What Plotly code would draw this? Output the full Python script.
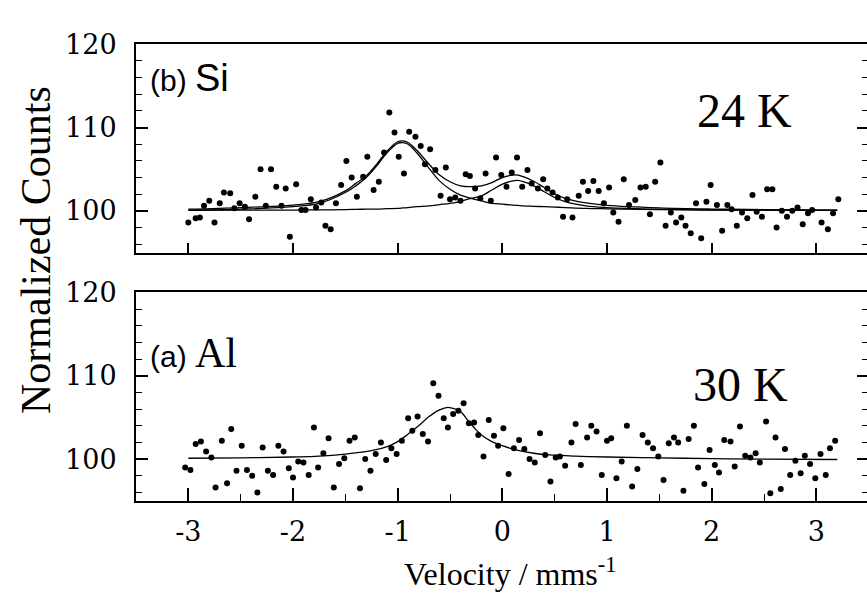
import plotly.graph_objects as go

# ---------------- data ----------------
# (b) Si, 24 K  -- measured points
si_x = [-3.00, -2.93, -2.89, -2.85, -2.80, -2.75, -2.70, -2.66, -2.60, -2.56, -2.51, -2.46, -2.42,
        -2.36, -2.31, -2.26, -2.21, -2.16, -2.11, -2.07, -2.03, -1.97, -1.92, -1.88, -1.83, -1.78,
        -1.73, -1.69, -1.64, -1.59, -1.54, -1.49, -1.44, -1.39, -1.33, -1.29, -1.23, -1.18, -1.13,
        -1.08, -1.03, -0.99, -0.94, -0.89, -0.83, -0.78, -0.74, -0.69, -0.64, -0.59, -0.54, -0.50,
        -0.45, -0.40, -0.35, -0.31, -0.26, -0.21, -0.16, -0.11, -0.06, -0.01, 0.04, 0.09, 0.14,
        0.19, 0.24, 0.28, 0.34, 0.39, 0.43, 0.48, 0.53, 0.58, 0.62, 0.67, 0.73, 0.77, 0.82, 0.87,
        0.92, 0.97, 1.02, 1.06, 1.11, 1.16, 1.21, 1.27, 1.32, 1.37, 1.41, 1.46, 1.51, 1.56, 1.61,
        1.66, 1.71, 1.75, 1.80, 1.85, 1.90, 1.95, 1.99, 2.05, 2.10, 2.15, 2.19, 2.24, 2.29, 2.34,
        2.39, 2.43, 2.48, 2.53, 2.58, 2.62, 2.67, 2.72, 2.77, 2.82, 2.87, 2.92, 2.96, 3.05, 3.11,
        3.16, 3.21]
si_y = [98.6, 99.1, 99.2, 100.6, 101.2, 98.6, 100.9, 102.2, 102.1, 100.3, 100.9, 100.5, 99.0,
        101.7, 105.0, 100.6, 105.0, 102.9, 100.6, 102.7, 96.9, 103.2, 100.1, 100.1, 101.4, 100.4,
        101.0, 98.2, 97.8, 100.9, 103.1, 106.0, 104.0, 101.7, 104.1, 106.5, 102.5, 103.5, 107.0,
        111.8, 109.4, 106.5, 104.5, 109.5, 108.9, 107.8, 105.6, 107.4, 104.9, 101.8, 105.2, 101.4,
        101.6, 101.2, 104.4, 104.2, 102.7, 101.5, 104.5, 101.2, 106.4, 104.3, 102.9, 104.6, 106.4,
        102.9, 104.9, 103.3, 102.7, 103.8, 102.7, 102.2, 101.6, 99.3, 101.4, 99.2, 101.8, 103.5,
        102.4, 103.6, 102.4, 100.9, 102.8, 99.8, 98.7, 103.8, 100.7, 101.3, 102.8, 102.9, 99.6,
        103.5, 105.8, 98.2, 99.8, 98.6, 99.2, 98.2, 97.3, 100.9, 96.7, 101.1, 103.1, 100.7, 97.6,
        100.7, 100.2, 98.2, 99.8, 99.1, 101.9, 99.9, 99.3, 102.6, 102.6, 98.0, 100.0, 99.3, 100.0,
        100.4, 98.4, 99.7, 100.1, 98.6, 97.8, 99.7, 101.4]

# (b) Si fitted curves (total and the two sub-spectra), read at these velocities
si_fit_x = [-3.0, -2.5, -2.0, -1.75, -1.5, -1.4, -1.3, -1.2, -1.1, -1.0, -0.95, -0.9, -0.82,
            -0.7, -0.6, -0.5, -0.4, -0.3, -0.2, -0.1, 0.0, 0.1, 0.15, 0.2, 0.3, 0.4, 0.5, 0.6,
            0.8, 1.0, 1.5, 2.0, 2.5, 3.2]
si_total = [100.2, 100.4, 100.7, 101.1, 102.4, 103.3, 104.2, 105.6, 107.2, 108.3, 108.4, 108.2,
            107.3, 105.6, 104.3, 103.5, 103.0, 102.9, 103.0, 103.4, 104.0, 104.3, 104.3, 104.1,
            103.55, 102.8, 102.05, 101.5, 100.95, 100.65, 100.35, 100.22, 100.16, 100.1]
si_comp1 = [100.1, 100.2, 100.5, 100.9, 102.2, 103.0, 104.0, 105.4, 107.0, 108.1, 108.2, 108.0,
            107.0, 105.1, 103.6, 102.6, 101.9, 101.5, 101.2, 100.9, 100.8, 100.7, 100.65, 100.6,
            100.55, 100.5, 100.45, 100.4, 100.3, 100.25, 100.15, 100.1, 100.08, 100.05]
si_comp2 = [100.05, 100.08, 100.1, 100.12, 100.15, 100.18, 100.2, 100.22, 100.26, 100.3, 100.35,
            100.4, 100.5, 100.6, 100.75, 100.9, 101.15, 101.5, 101.8, 102.5, 103.2, 103.6, 103.65,
            103.5, 103.0, 102.3, 101.6, 101.1, 100.6, 100.4, 100.2, 100.12, 100.08, 100.05]

# (a) Al, 30 K -- measured points
al_x = [-3.03, -2.98, -2.93, -2.88, -2.83, -2.78, -2.74, -2.68, -2.63, -2.59, -2.54, -2.49, -2.44,
        -2.39, -2.34, -2.29, -2.24, -2.19, -2.14, -2.09, -2.04, -2.00, -1.95, -1.90, -1.85, -1.80,
        -1.76, -1.71, -1.66, -1.61, -1.56, -1.51, -1.46, -1.41, -1.36, -1.31, -1.26, -1.21, -1.16,
        -1.11, -1.06, -1.01, -0.96, -0.90, -0.86, -0.81, -0.76, -0.71, -0.66, -0.61, -0.56, -0.52,
        -0.47, -0.42, -0.37, -0.32, -0.27, -0.23, -0.18, -0.13, -0.08, -0.04, 0.01, 0.06, 0.11,
        0.16, 0.21, 0.26, 0.31, 0.36, 0.41, 0.46, 0.51, 0.55, 0.60, 0.66, 0.70, 0.75, 0.81, 0.85,
        0.90, 0.95, 1.00, 1.04, 1.09, 1.14, 1.19, 1.24, 1.29, 1.34, 1.39, 1.44, 1.49, 1.54, 1.59,
        1.64, 1.68, 1.73, 1.78, 1.83, 1.87, 1.93, 1.98, 2.03, 2.07, 2.12, 2.18, 2.22, 2.27, 2.32,
        2.37, 2.42, 2.46, 2.52, 2.56, 2.61, 2.66, 2.70, 2.75, 2.80, 2.85, 2.89, 2.94, 2.99, 3.04,
        3.09, 3.13, 3.18]
al_y = [99.0, 98.7, 101.8, 102.1, 100.9, 100.2, 96.6, 102.2, 97.1, 103.6, 98.6, 101.6, 98.7,
        98.0, 96.0, 101.4, 98.6, 98.1, 101.6, 100.9, 98.9, 97.8, 99.7, 99.6, 98.1, 103.8,
        99.0, 100.7, 102.5, 96.6, 99.4, 100.1, 102.2, 102.6, 96.5, 100.0, 98.6, 100.6, 102.0,
        99.9, 101.3, 100.6, 102.2, 104.9, 103.4, 105.1, 103.0, 102.1, 109.1, 107.6, 104.9, 103.8,
        105.4, 105.8, 106.7, 104.3, 104.4, 102.9, 100.3, 104.7, 102.8, 101.6, 103.7, 98.2, 101.3,
        102.3, 101.2, 100.0, 99.6, 103.1, 100.5, 97.3, 100.2, 100.3, 99.2, 102.0, 104.2, 99.3,
        102.6, 104.0, 103.3, 98.1, 102.2, 102.5, 97.7, 99.7, 104.0, 96.7, 98.8, 102.9, 102.0,
        101.3, 100.3, 97.5, 101.9, 102.6, 102.0, 96.2, 102.4, 104.0, 99.0, 97.0, 101.1, 99.3,
        98.4, 102.3, 102.1, 99.1, 103.9, 100.4, 100.2, 100.7, 99.6, 104.5, 95.9, 102.6, 96.4,
        101.2, 98.1, 99.8, 98.3, 100.4, 99.4, 97.7, 100.6, 98.1, 101.3, 102.2]

# (a) Al fitted curve
al_fit_x = [-3.0, -2.5, -2.0, -1.75, -1.5, -1.25, -1.1, -1.0, -0.9, -0.8, -0.7, -0.6, -0.52,
            -0.45, -0.4, -0.32, -0.25, -0.19, -0.1, 0.0, 0.13, 0.3, 0.45, 0.7, 1.0, 1.5, 2.0,
            2.5, 3.2]
al_fit = [100.1, 100.15, 100.25, 100.35, 100.6, 101.0, 101.5, 102.1, 103.0, 104.0, 105.1, 105.9,
          106.2, 106.0, 105.7, 104.5, 103.5, 102.8, 102.1, 101.6, 101.1, 100.7, 100.5, 100.35,
          100.25, 100.15, 100.05, 100.0, 99.95]

x_tickvals = [-3, -2, -1, 0, 1, 2, 3]
x_ticktext = ["-3", "-2", "-1", "0", "1", "2", "3"]
y_tickvals = [100, 110, 120]
y_ticktext = ["100", "110", "120"]

# ---------------- figure ----------------
SERIF = "Liberation Serif, Times New Roman, serif"
TICKFONT = dict(family="DejaVu Serif, serif", size=27, color="black")
SANS = "Liberation Sans, Arial, sans-serif"

fig = go.Figure()
fig.add_trace(go.Scatter(x=si_x, y=si_y, mode="markers",
                         marker=dict(color="black", size=6), xaxis="x2", yaxis="y2"))
for ys in (si_total, si_comp1, si_comp2):
    fig.add_trace(go.Scatter(x=si_fit_x, y=ys, mode="lines",
                             line=dict(color="black", width=1.3, shape="spline"),
                             xaxis="x2", yaxis="y2"))
fig.add_trace(go.Scatter(x=al_x, y=al_y, mode="markers",
                         marker=dict(color="black", size=6), xaxis="x", yaxis="y"))
fig.add_trace(go.Scatter(x=al_fit_x, y=al_fit, mode="lines",
                         line=dict(color="black", width=1.3, shape="spline"),
                         xaxis="x", yaxis="y"))
# empty traces so the right-hand tick axes are registered
fig.add_trace(go.Scatter(x=[], y=[], xaxis="x", yaxis="y3", hoverinfo="skip"))
fig.add_trace(go.Scatter(x=[], y=[], xaxis="x2", yaxis="y4", hoverinfo="skip"))

xcommon = dict(range=[-3.5, 3.484], showgrid=False, zeroline=False, showline=True,
               linecolor="black", linewidth=2, mirror=True, ticks="inside",
               tickcolor="black", tickwidth=1.5, tickmode="array",
               tickvals=x_tickvals, ticktext=x_ticktext, tickfont=TICKFONT)
ycommon = dict(range=[95, 120], showgrid=False, zeroline=False, showline=True,
               linecolor="black", linewidth=2, mirror=False, ticks="inside",
               tickcolor="black", tickwidth=1.5, ticklen=12, tickmode="array",
               tickvals=y_tickvals, ticktext=y_ticktext, tickfont=TICKFONT,
               ticklabelstandoff=12,
               minor=dict(tickmode="linear", tick0=0, dtick=2, ticks="inside",
                          ticklen=6, tickcolor="black", tickwidth=1.2))
yright = dict(range=[95, 120], showgrid=False, zeroline=False, showline=False,
              side="right", ticks="inside", tickcolor="black", tickwidth=1.5, ticklen=10,
              tickmode="array", tickvals=y_tickvals, showticklabels=False,
              minor=dict(tickmode="linear", tick0=0, dtick=2, ticks="inside",
                         ticklen=5, tickcolor="black", tickwidth=1.2))

fig.update_layout(
    width=867, height=601,
    margin=dict(l=136, r=0, t=0, b=0),
    paper_bgcolor="white", plot_bgcolor="white",
    showlegend=False,
    xaxis=dict(**xcommon, anchor="y", domain=[0, 1], ticklen=13, ticklabelstandoff=6,
               minor=dict(tickmode="linear", tick0=0, dtick=0.5, ticks="inside",
                          ticklen=7, tickcolor="black", tickwidth=1.2)),
    xaxis2=dict(**xcommon, anchor="y2", domain=[0, 1], ticklen=10,
                showticklabels=False, matches="x"),
    yaxis=dict(**ycommon, anchor="x", domain=[0.1714, 0.5275]),
    yaxis2=dict(**ycommon, anchor="x2", domain=[0.5957, 0.9517]),
    yaxis3=dict(**yright, anchor="x", overlaying="y"),
    yaxis4=dict(**yright, anchor="x2", overlaying="y2"),
)

annotations = [
    dict(text="(b) <span style='font-size:38px'>Si</span>", x=-3.39, y=115.9, xref="x2",
         yref="y2", xanchor="left", yanchor="middle", showarrow=False,
         font=dict(family=SANS, size=30, color="black")),
    dict(text="24 K", x=2.31, y=112.1, xref="x2", yref="y2", xanchor="center",
         yanchor="middle", showarrow=False, font=dict(family=SERIF, size=48, color="black")),
    dict(text="(a) <span style='font-family:Liberation Serif;font-size:42px'>Al</span>",
         x=-3.39, y=112.7, xref="x", yref="y", xanchor="left",
         yanchor="middle", showarrow=False, font=dict(family=SANS, size=30, color="black")),
    dict(text="30 K", x=2.28, y=108.9, xref="x", yref="y", xanchor="center",
         yanchor="middle", showarrow=False, font=dict(family=SERIF, size=48, color="black")),
    dict(text="Normalized Counts", x=-0.1368, y=0.600, xref="paper", yref="paper",
         xanchor="center", yanchor="middle", textangle=-90, showarrow=False,
         font=dict(family=SERIF, size=42, color="black")),
    dict(text="Velocity / mms<sup>-1</sup>", x=0.512, y=0.050, xref="paper", yref="paper",
         xanchor="center", yanchor="middle", showarrow=False,
         font=dict(family=SERIF, size=32, color="black")),
]
fig.update_layout(annotations=annotations)

fig.write_html("out.html")
